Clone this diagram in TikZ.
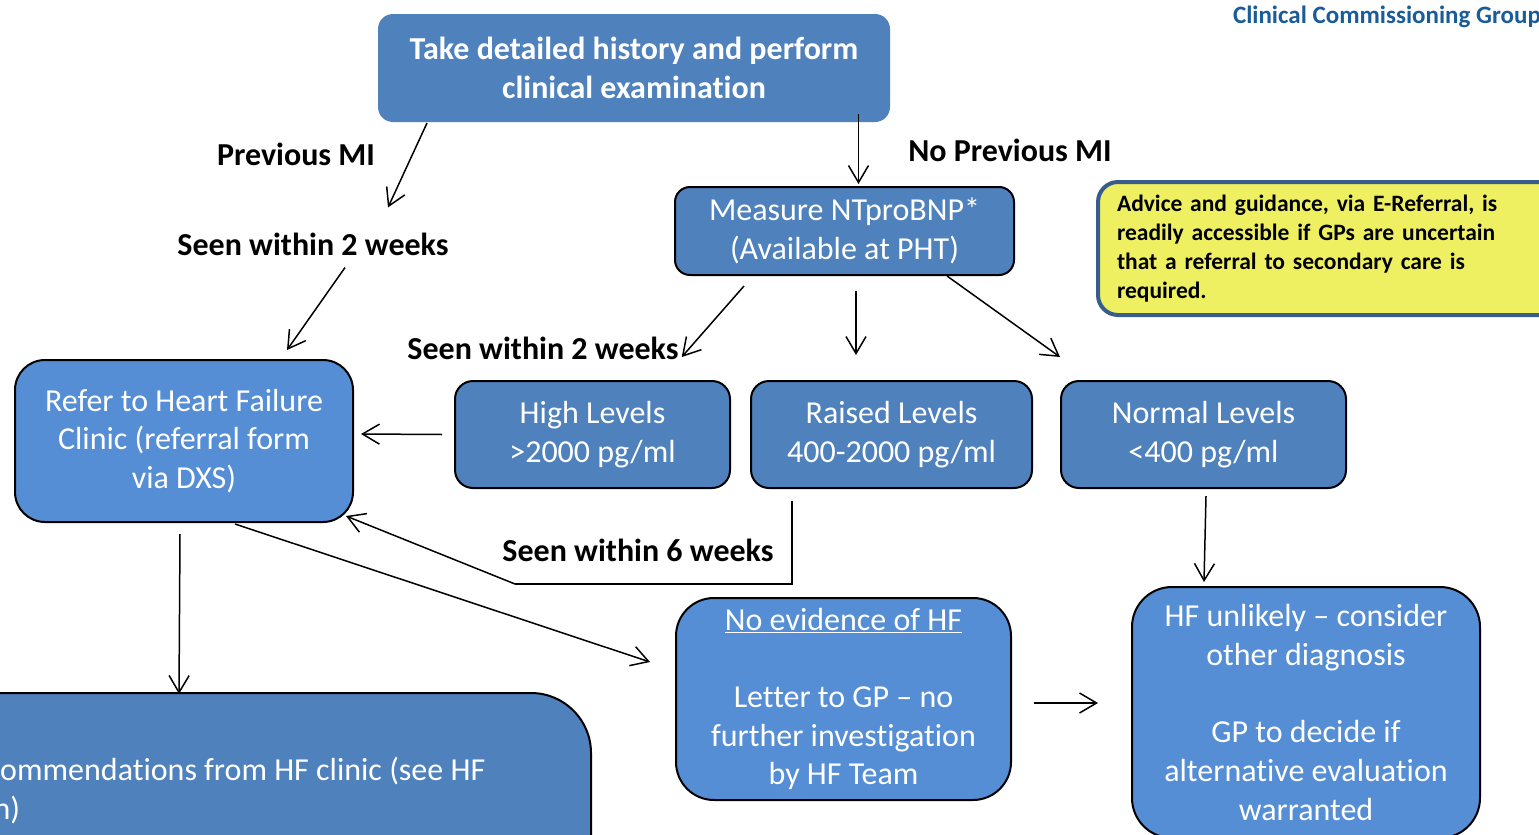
\documentclass[tikz,border=0pt]{standalone}
\usepackage{fontspec}
\setmainfont{Carlito}[Ligatures={NoCommon}]
\usepackage{tikz}
\usetikzlibrary{arrows.meta,positioning,calc}
\usepackage{xcolor}

\definecolor{boxblue}{RGB}{79,129,189}
\definecolor{liteblue}{RGB}{85,142,213}
\definecolor{notefill}{RGB}{238,240,98}
\definecolor{noteedge}{RGB}{56,93,138}
\definecolor{ccgblue}{RGB}{26,92,152}
\newcommand{\boxfont}{\fontsize{32}{38.7}\selectfont}
\newcommand{\lblfont}{\fontsize{32}{38}\selectfont\bfseries}

\begin{document}
\begin{tikzpicture}[x=1pt, y=-1pt, >={Straight Barb[length=17pt,width=20pt]},
  blkbox/.style={draw=black, line width=2pt, fill=boxblue, text=white,
                 align=center, inner sep=0pt, font=\boxfont},
  litebox/.style={blkbox, fill=liteblue},
  lbl/.style={font=\lblfont, inner sep=0pt},
  conn/.style={->, line width=1.5pt}]
  \useasboundingbox (0,0) rectangle (1539,835);
  \clip (0,0) rectangle (1539,835);

  % ---- Header ----
  \node[anchor=east, inner sep=0pt, text=ccgblue, font=\fontsize{25}{30}\selectfont\bfseries]
    (ccg) at (1541,17) {Clinical Commissioning Group};

  % ---- Top row ----
  \node[blkbox, draw=none, rounded corners=15, minimum width=512, minimum height=108,
        font=\boxfont\bfseries] (hist) at (634,68)
    {Take detailed history and perform\\clinical examination};
  \node[blkbox, rounded corners=15, minimum width=339, minimum height=88]
    (measure) at (844.5,231) {Measure NTproBNP*\\(Available at PHT)};
  \node[draw=noteedge, line width=4pt, fill=notefill, rounded corners=20,
        anchor=west, minimum height=133, inner xsep=19pt, text width=440pt,
        align=left, font=\fontsize{23.5}{29}\selectfont\bfseries] (advice) at (1096,248.5)
    {Advice and guidance, via E-Referral, is\\readily accessible if GPs are uncertain\\%
     that a referral to secondary care is\\required.};

  % ---- Labels ----
  \node[lbl] (prevmi)   at (296,154)  {Previous MI};
  \node[lbl] (noprevmi) at (1010,150) {No Previous MI};
  \node[lbl] (seen2a)   at (313,244)  {Seen within 2 weeks};
  \node[lbl] (seen2b)   at (543,348)  {Seen within 2 weeks};
  \node[lbl] (seen6)    at (638,550)  {Seen within 6 weeks};

  % ---- Middle row ----
  \node[litebox, rounded corners=30, minimum width=338, minimum height=162]
    (refer) at (184,441) {Refer to Heart Failure\\Clinic (referral form\\via DXS)};
  \node[blkbox, rounded corners=18, minimum width=275, minimum height=107]
    (high) at (592.5,434.5) {High Levels\\>2000 pg/ml};
  \node[blkbox, rounded corners=18, minimum width=281, minimum height=107]
    (raised) at (891.5,434.5) {Raised Levels\\400-2000 pg/ml};
  \node[blkbox, rounded corners=18, minimum width=285, minimum height=107]
    (normal) at (1203.5,434.5) {Normal Levels\\<400 pg/ml};

  % ---- Bottom row ----
  \node[blkbox, rounded corners=60, minimum width=800, minimum height=220,
        anchor=north east] (recbox) at (592,692) {};
  \node[anchor=west, inner sep=0pt, text=white, align=left, font=\boxfont]
    (rectext) at (-46,791) {Recommendations from HF clinic (see HF\\plan)};
  \node[litebox, rounded corners=38, minimum width=335, minimum height=202]
    (noev) at (843.5,699)
    {\underline{No evidence of HF}\\[38.7pt]Letter to GP -- no\\further investigation\\by HF Team};
  \node[litebox, rounded corners=40, minimum width=348, minimum height=251]
    (unlikely) at (1306,712.5)
    {HF unlikely -- consider\\other diagnosis\\[38.7pt]GP to decide if\\alternative evaluation\\warranted};

  % ---- Connectors ----
  \draw[conn] ($(hist.south west)+(50,0)$) -- ($(seen2a.north)+(75,-25)$);
  \draw[conn] ($(measure.north)+(14,-72)$) -- ($(measure.north)+(14,-2)$);
  \draw[conn] ($(seen2a.south)+(32,12)$) -- ($(refer.north)+(103,-9)$);
  \draw[conn] ($(measure.south)+(-100.5,10)$) -- ($(seen2b.east)+(3,9)$);
  \draw[conn] ($(measure.south)+(11.5,15)$) -- ($(raised.north)+(-35.5,-25)$);
  \draw[conn] ($(measure.south)+(102.5,0)$) -- ($(normal.north)+(-143.5,-23)$);
  \draw[conn] ($(high.west)+(-12,0)$) -- ($(refer.east)+(7,-7)$);
  % raised levels back to the clinic
  \draw[line width=2.5pt] ($(raised.south)+(-99.5,12)$) -- ++(0,83) -- ++(-277,0)
    coordinate (elbow);
  \draw[conn] (elbow) -- ($(refer.south east)+(-8,-7)$);
  \draw[conn] ($(refer.south)+(51,1)$) -- ($(noev.west)+(-25,-37)$);
  \draw[conn] ($(refer.south)+(-4,11)$) -- ($(recbox.north)+(-12,2)$);
  \draw[conn] ($(noev.east)+(22,4)$) -- ($(unlikely.west)+(-33,-9.5)$);
  \draw[conn] ($(normal.south)+(2.5,7)$) -- ($(unlikely.north)+(-102,-4)$);
\end{tikzpicture}
\end{document}
